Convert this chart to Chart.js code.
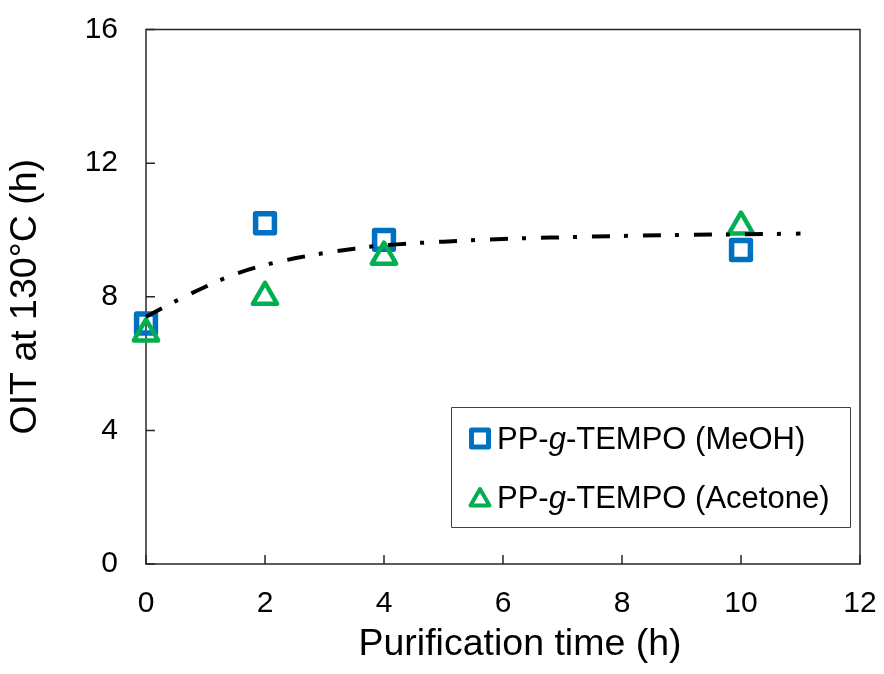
<!DOCTYPE html>
<html lang="en">
<head>
<meta charset="UTF-8">
<title>OIT vs purification time</title>
<script src="https://cdn.jsdelivr.net/npm/chart.js"></script>
<style>
  html, body { margin: 0; padding: 0; background: #fff; }
  #wrap { width: 884px; height: 674px; }
</style>
</head>
<body>
<div id="wrap"><canvas id="oitChart" width="884" height="674"></canvas></div>
<script>
  // values
  const timesMeOH = [0, 2, 4, 10];
  const oitMeOH = [7.2, 10.2, 9.7, 9.4];
  const timesAcetone = [0, 2, 4, 10];
  const oitAcetone = [6.9, 8.0, 9.2, 10.1];
  // dash-dot trend line
  const trendTimes = [0, 0.5, 1, 1.5, 2, 2.5, 3, 3.5, 4, 5, 6, 7, 8, 9, 10, 11];
  const trendOIT = [7.4, 7.87, 8.3, 8.68, 8.95, 9.15, 9.31, 9.44, 9.54, 9.65, 9.73, 9.78, 9.82, 9.85, 9.87, 9.89];
  const xTicks = [0, 2, 4, 6, 8, 10, 12];
  const yTicks = [0, 4, 8, 12, 16];
  const xTitle = 'Purification time (h)';
  const yTitle = 'OIT at 130°C (h)';
  // legend text split so the "g" can be set in italics
  const labelMeOH = ['PP-', 'g', '-TEMPO (MeOH)'];
  const labelAcetone = ['PP-', 'g', '-TEMPO (Acetone)'];

  const BLUE = '#0070C0';
  const GREEN = '#00B050';
  const FONT = "'Liberation Sans', Arial, sans-serif";
  Chart.defaults.font.family = FONT;
  Chart.defaults.color = '#000';

  const toPoints = (xs, ys) => xs.map((x, i) => ({ x: x, y: ys[i] }));

  const legendRows = [
    { parts: labelMeOH, color: BLUE, style: 'rect', radius: 12, width: 5 },
    { parts: labelAcetone, color: GREEN, style: 'triangle', radius: 11, width: 4 }
  ];

  const framePlugin = {
    id: 'frame',
    beforeDatasetsDraw(chart) {
      const { ctx, chartArea: a, scales } = chart;
      ctx.save();
      ctx.strokeStyle = '#262626';
      ctx.lineWidth = 1.5;
      ctx.strokeRect(a.left, a.top, a.right - a.left, a.bottom - a.top);
      // inward tick marks
      ctx.beginPath();
      xTicks.forEach(v => {
        const px = scales.x.getPixelForValue(v);
        ctx.moveTo(px, a.bottom);
        ctx.lineTo(px, a.bottom - 9);
      });
      yTicks.forEach(v => {
        const py = scales.y.getPixelForValue(v);
        ctx.moveTo(a.left, py);
        ctx.lineTo(a.left + 9, py);
      });
      ctx.stroke();
      // x axis title sits a little right of the plot centre in the original
      ctx.fillStyle = '#000';
      ctx.font = '37.5px ' + FONT;
      ctx.textAlign = 'center';
      ctx.textBaseline = 'alphabetic';
      ctx.fillText(xTitle, (a.left + a.right) / 2 + 17, 655);
      ctx.restore();
      ctx.lineJoin = 'round';
    },
    afterDraw(chart) {
      const { ctx, chartArea: a } = chart;
      const bx = a.right - 409, by = a.bottom - 157, bw = 399, bh = 120;
      ctx.save();
      ctx.fillStyle = '#fff';
      ctx.fillRect(bx, by, bw, bh);
      ctx.strokeStyle = '#404040';
      ctx.lineWidth = 1;
      ctx.strokeRect(bx + 0.5, by + 0.5, bw, bh);
      ctx.lineJoin = 'round';
      const rowMarkY = [by + 31.5, by + 93];
      const rowTextY = [by + 42, by + 101];
      legendRows.forEach((row, i) => {
        ctx.strokeStyle = row.color;
        ctx.fillStyle = 'rgba(0,0,0,0)';
        ctx.lineWidth = row.width;
        Chart.helpers.drawPoint(ctx, { pointStyle: row.style, radius: row.radius, borderWidth: row.width, rotation: 0 }, bx + 29, rowMarkY[i]);
        ctx.fillStyle = '#000';
        ctx.textBaseline = 'alphabetic';
        let tx = bx + 46;
        row.parts.forEach((p, j) => {
          ctx.font = (j === 1 ? 'italic ' : '') + '31px ' + FONT;
          ctx.fillText(p, tx, rowTextY[i]);
          tx += ctx.measureText(p).width;
        });
      });
      ctx.restore();
    }
  };

  new Chart(document.getElementById('oitChart'), {
    type: 'scatter',
    data: {
      datasets: [
        {
          label: 'trend',
          data: toPoints(trendTimes, trendOIT),
          showLine: true,
          borderColor: '#000',
          borderWidth: 4,
          borderDash: [18, 14, 4, 15],
          borderCapStyle: 'butt',
          pointRadius: 0,
          cubicInterpolationMode: 'monotone',
          order: 0,
          clip: false
        },
        {
          label: 'PP-g-TEMPO (MeOH)',
          data: toPoints(timesMeOH, oitMeOH),
          pointStyle: 'rect',
          pointRadius: 13.3,
          pointBorderWidth: 5.5,
          pointBorderColor: BLUE,
          pointBackgroundColor: 'rgba(0,0,0,0)',
          order: 2,
          clip: false
        },
        {
          label: 'PP-g-TEMPO (Acetone)',
          data: toPoints(timesAcetone, oitAcetone),
          pointStyle: 'triangle',
          pointRadius: 14,
          pointBorderWidth: 4.5,
          pointBorderColor: GREEN,
          pointBackgroundColor: 'rgba(0,0,0,0)',
          order: 1,
          clip: false
        }
      ]
    },
    options: {
      responsive: false,
      animation: false,
      devicePixelRatio: 1,
      layout: { padding: { top: 29.5, right: 24, left: 0, bottom: 0 } },
      plugins: { legend: { display: false }, tooltip: { enabled: false } },
      scales: {
        x: {
          type: 'linear',
          min: 0,
          max: 12,
          afterBuildTicks: s => { s.ticks = xTicks.map(v => ({ value: v })); },
          afterFit: s => { s.height = 110; s.paddingLeft = 0; s.paddingRight = 0; },
          grid: { display: false, drawTicks: false },
          border: { display: false },
          ticks: { padding: 22, font: { size: 30 } },
          title: { display: false }
        },
        y: {
          type: 'linear',
          min: 0,
          max: 16,
          afterBuildTicks: s => { s.ticks = yTicks.map(v => ({ value: v })); },
          afterFit: s => { s.width = 146; s.paddingTop = 0; s.paddingBottom = 0; },
          grid: { display: false, drawTicks: false },
          border: { display: false },
          ticks: { padding: 28, font: { size: 30 } },
          title: {
            display: true,
            text: yTitle,
            font: { size: 37.5 },
            padding: { top: 3, bottom: 0 }
          }
        }
      }
    },
    plugins: [framePlugin]
  });
</script>
</body>
</html>
